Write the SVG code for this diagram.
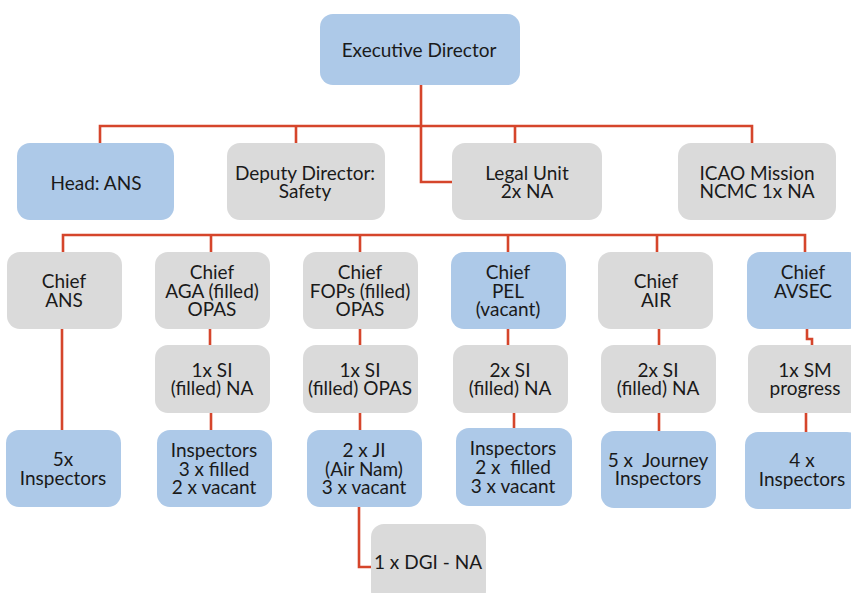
<svg xmlns="http://www.w3.org/2000/svg" width="851" height="593" viewBox="0 0 851 593">
  <style>
    .blue { fill: #adc9e8; }
    .gray { fill: #dadada; }
    text { font-family: Lato, "Noto Sans", "Liberation Sans", sans-serif; font-size: 19px; fill: #1a1a1a; text-anchor: middle; }
    .conn { fill: none; stroke: #d5452b; stroke-width: 2.6; }
  </style>
  <rect width="851" height="593" fill="#ffffff"/>

  <!-- connectors -->
  <g id="connectors" class="conn">
    <path d="M421 85 V182 H452"/>
    <path d="M100 143 V126 H752 V143"/>
    <path d="M296 126 V143"/>
    <path d="M515 126 V143"/>
    <path d="M63 252 V235 H805 V252"/>
    <path d="M211 235 V252"/>
    <path d="M360 235 V252"/>
    <path d="M508 235 V252"/>
    <path d="M657 235 V252"/>
    <path d="M62 329 V430"/>
    <path d="M210 329 V345"/>
    <path d="M360 329 V345"/>
    <path d="M508 329 V345"/>
    <path d="M659 329 V345"/>
    <path d="M807 329 V339 H812 V345"/>
    <path d="M211 413 V430"/>
    <path d="M360 413 V430"/>
    <path d="M514 413 V428"/>
    <path d="M659 413 V431"/>
    <path d="M806 413 V432"/>
    <path d="M359 507 V567 H371"/>
  </g>

  <g id="executive-director">
    <rect class="blue" x="320" y="14" width="200" height="71" rx="13"/>
    <text x="419" y="57">Executive Director</text>
  </g>

  <g id="head-ans">
    <rect class="blue" x="17" y="143" width="157" height="77" rx="13"/>
    <text x="96" y="190">Head: ANS</text>
  </g>
  <g id="deputy-director">
    <rect class="gray" x="227" y="143" width="158" height="77" rx="13"/>
    <text x="305" y="180">Deputy Director:</text>
    <text x="305" y="198">Safety</text>
  </g>
  <g id="legal-unit">
    <rect class="gray" x="452" y="143" width="150" height="77" rx="13"/>
    <text x="527" y="180">Legal Unit</text>
    <text x="527" y="198">2x NA</text>
  </g>
  <g id="icao-mission">
    <rect class="gray" x="678" y="143" width="158" height="77" rx="13"/>
    <text x="757" y="180">ICAO Mission</text>
    <text x="757" y="198">NCMC 1x NA</text>
  </g>

  <g id="chief-ans">
    <rect class="gray" x="7" y="252" width="115" height="77" rx="13"/>
    <text x="64" y="288">Chief</text>
    <text x="64" y="307">ANS</text>
  </g>
  <g id="chief-aga">
    <rect class="gray" x="155" y="252" width="115" height="77" rx="13"/>
    <text x="212" y="279">Chief</text>
    <text x="212" y="298">AGA (filled)</text>
    <text x="212" y="316">OPAS</text>
  </g>
  <g id="chief-fops">
    <rect class="gray" x="303" y="252" width="115" height="77" rx="13"/>
    <text x="360" y="279">Chief</text>
    <text x="360" y="298">FOPs (filled)</text>
    <text x="360" y="316">OPAS</text>
  </g>
  <g id="chief-pel">
    <rect class="blue" x="451" y="252" width="115" height="77" rx="13"/>
    <text x="508" y="279">Chief</text>
    <text x="508" y="298">PEL</text>
    <text x="508" y="316">(vacant)</text>
  </g>
  <g id="chief-air">
    <rect class="gray" x="598" y="252" width="115" height="77" rx="13"/>
    <text x="656" y="288">Chief</text>
    <text x="656" y="307">AIR</text>
  </g>
  <g id="chief-avsec">
    <rect class="blue" x="747" y="252" width="115" height="77" rx="13"/>
    <text x="803" y="279">Chief</text>
    <text x="803" y="298">AVSEC</text>
  </g>

  <g id="si-aga">
    <rect class="gray" x="155" y="345" width="115" height="68" rx="13"/>
    <text x="212" y="377">1x SI</text>
    <text x="212" y="395">(filled) NA</text>
  </g>
  <g id="si-fops">
    <rect class="gray" x="303" y="345" width="115" height="68" rx="13"/>
    <text x="360" y="377">1x SI</text>
    <text x="360" y="395">(filled) OPAS</text>
  </g>
  <g id="si-pel">
    <rect class="gray" x="453" y="345" width="115" height="68" rx="13"/>
    <text x="510" y="377">2x SI</text>
    <text x="510" y="395">(filled) NA</text>
  </g>
  <g id="si-air">
    <rect class="gray" x="601" y="345" width="115" height="68" rx="13"/>
    <text x="658" y="377">2x SI</text>
    <text x="658" y="395">(filled) NA</text>
  </g>
  <g id="sm-avsec">
    <rect class="gray" x="748" y="345" width="115" height="68" rx="13"/>
    <text x="805" y="377">1x SM</text>
    <text x="805" y="395">progress</text>
  </g>

  <g id="inspectors-ans">
    <rect class="blue" x="6" y="430" width="115" height="77" rx="13"/>
    <text x="63" y="466">5x</text>
    <text x="63" y="485">Inspectors</text>
  </g>
  <g id="inspectors-aga">
    <rect class="blue" x="157" y="430" width="115" height="77" rx="13"/>
    <text x="214" y="457">Inspectors</text>
    <text x="214" y="476">3 x filled</text>
    <text x="214" y="494">2 x vacant</text>
  </g>
  <g id="ji-fops">
    <rect class="blue" x="307" y="430" width="115" height="77" rx="13"/>
    <text x="364" y="457">2 x JI</text>
    <text x="364" y="476">(Air Nam)</text>
    <text x="364" y="494">3 x vacant</text>
  </g>
  <g id="inspectors-pel">
    <rect class="blue" x="456" y="428" width="116" height="78" rx="13"/>
    <text x="513" y="455">Inspectors</text>
    <text x="513" y="474" xml:space="preserve">2 x  filled</text>
    <text x="513" y="493">3 x vacant</text>
  </g>
  <g id="inspectors-air">
    <rect class="blue" x="601" y="431" width="115" height="77" rx="13"/>
    <text x="658" y="467" xml:space="preserve">5 x  Journey</text>
    <text x="658" y="485">Inspectors</text>
  </g>
  <g id="inspectors-avsec">
    <rect class="blue" x="745" y="432" width="115" height="77" rx="13"/>
    <text x="802" y="467">4 x</text>
    <text x="802" y="486">Inspectors</text>
  </g>

  <g id="dgi">
    <rect class="gray" x="371" y="524" width="115" height="80" rx="13"/>
    <text x="428" y="569">1 x DGI - NA</text>
  </g>
</svg>
